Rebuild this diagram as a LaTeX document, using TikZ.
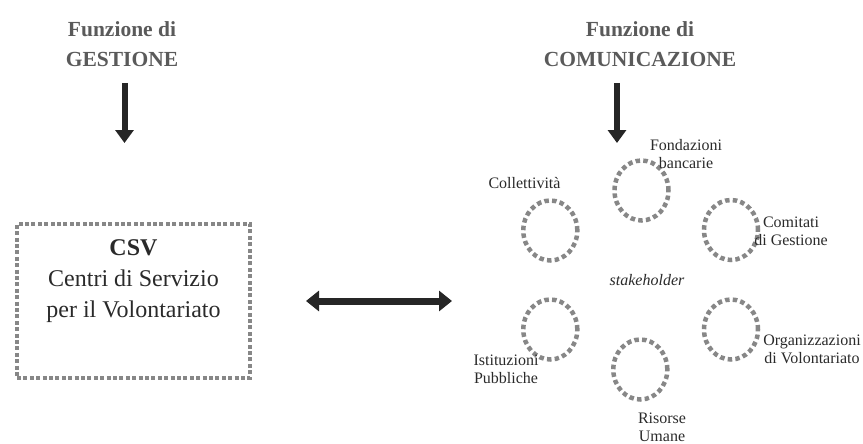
\documentclass[tikz,border=0pt]{standalone}
\usepackage{fontspec}
\setmainfont{Liberation Serif}
\usetikzlibrary{arrows.meta,shapes.geometric}
\definecolor{headgray}{HTML}{5A5A5A}
\definecolor{dashgray}{HTML}{878787}
\definecolor{arrowdark}{HTML}{262626}
\definecolor{textdark}{HTML}{2A2A2A}
\begin{document}
\begin{tikzpicture}[x=1pt,y=-1pt,
  heading/.style={font=\fontsize{21.5}{31}\selectfont\bfseries, text=headgray, align=center, inner sep=0pt, anchor=base},
  lbl/.style={font=\fontsize{16}{18}\selectfont, text=textdark, align=center, inner sep=0pt, anchor=base},
  bigtext/.style={font=\fontsize{24}{31}\selectfont, text=textdark, align=center, inner sep=0pt, anchor=base},
  downarrow/.style={draw=arrowdark, line width=6pt, -{Triangle[width=18pt,length=13pt]}},
  botharrow/.style={draw=arrowdark, line width=7pt, {Triangle[width=20pt,length=13pt]}-{Triangle[width=20pt,length=13pt]}},
  csvbox/.style={draw=dashgray, line width=4pt, dash pattern=on 4pt off 2.4pt, rectangle, minimum width=233pt, minimum height=154pt, inner sep=0pt},
  stake/.style={draw=dashgray, line width=4.5pt, dash pattern=on 4.5pt off 3.2pt, ellipse, minimum width=54pt, minimum height=60pt, inner sep=0pt}
]
\useasboundingbox (0,0) rectangle (863,444);

% headings (anchor base = last line baseline)
\node[heading] (hG) at (122,67) {Funzione di\\GESTIONE};
\node[heading] (hC) at (640,67) {Funzione di\\COMUNICAZIONE};

% vertical arrows
\coordinate (gS) at (124.5,83);
\coordinate (gE) at (124.5,143);
\coordinate (cS) at (617,83);
\coordinate (cE) at (617,143);
\draw[downarrow] (gS) -- (gE);
\draw[downarrow] (cS) -- (cE);

% CSV box
\node[csvbox] (csv) at (133.5,301) {};
\node[bigtext] (csvt) at (133.5,317) {\textbf{CSV}\\Centri di Servizio\\per il Volontariato};

% double arrow
\coordinate (dL) at (306,301);
\coordinate (dR) at (452,301);
\draw[botharrow] (dL) -- (dR);

% stakeholder circles
\node[stake] (e1) at (641.5,190.5) {};
\node[stake] (e2) at (550.3,230.5) {};
\node[stake] (e3) at (731,230) {};
\node[stake] (e4) at (550.3,329.5) {};
\node[stake] (e5) at (640.3,369.5) {};
\node[stake] (e6) at (731,329.5) {};

\node[lbl, font=\fontsize{16}{18}\selectfont\itshape] (st) at (647,285) {stakeholder};

% labels
\node[lbl] (l1) at (686,168) {Fondazioni\\bancarie};
\node[lbl] (l2) at (524.5,188) {Collettività};
\node[lbl] (l3) at (791,245) {Comitati\\di Gestione};
\node[lbl] (l4) at (506,383) {Istituzioni\\Pubbliche};
\node[lbl] (l5) at (662,441) {Risorse\\Umane};
\node[lbl] (l6) at (812,363) {Organizzazioni\\di Volontariato};
\end{tikzpicture}
\end{document}
